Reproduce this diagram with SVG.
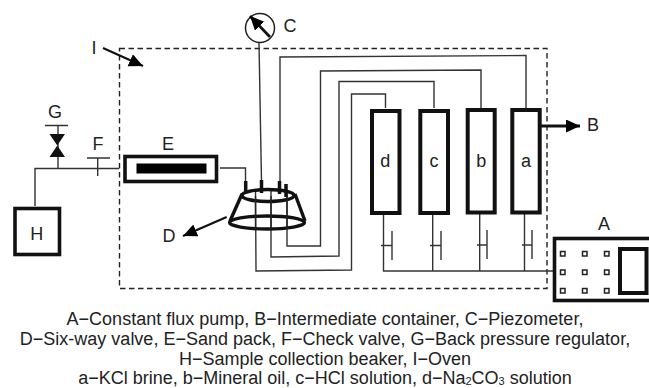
<svg xmlns="http://www.w3.org/2000/svg" width="649" height="388" viewBox="0 0 649 388">
<style>
text{font-family:"Liberation Sans",Arial,sans-serif;fill:#222}
.l{font-size:18px;text-anchor:middle}
.cap{font-size:18px;text-anchor:middle}
.w{fill:none;stroke:#333;stroke-width:1.4}
.b{fill:#fff;stroke:#111;stroke-width:3.6}
.c{fill:#fff;stroke:#111;stroke-width:4}
.t{fill:none;stroke:#111;stroke-width:3.4}
.p{fill:#fff;stroke:#222;stroke-width:1.5}
</style>
<defs><marker id="ah" markerUnits="userSpaceOnUse" markerWidth="16" markerHeight="14" refX="14" refY="6.500" orient="auto"><path d="M0 0L14 6.500L0 13Z" fill="#000"/></marker></defs>
<rect width="649" height="388" fill="#fff"/>
<g id="oven"><rect x="119.500" y="48.500" width="427.500" height="240" fill="none" stroke="#222" stroke-width="1.400" stroke-dasharray="5.500 3.500"/><path d="M103 48L143 66" stroke="#111" stroke-width="2.200" marker-end="url(#ah)" fill="none"/><text class="l" x="94" y="54">I</text></g>
<g id="connectors">
<path class="w" d="M259 43L261.500 182"/>
<path class="w" d="M280 182L280 57L526 55.500V108"/>
<path class="w" d="M287 190V246H320.500V71L481 70V108"/>
<path class="w" d="M271 190V257L339 256V81.500H434V108"/>
<path class="w" d="M255.500 190L256 271L351.500 270V94H385.500V108"/>
<path class="w" d="M383.500 215V271H554M432.700 215V271M479.700 214V271M524.500 214V271"/>
<path class="w" d="M381 245.500H392M392 231V260M430 245.500H441M441 231V260M477 245H487M487 230V259M522 245H532M532 230V259"/>
<path class="w" d="M220 168H245.500V182"/>
<path class="w" d="M119 168.500H35V206M58 168V125M45 125.500H68M97.700 176V158M87 158H110"/>
</g>
<g id="node-C"><circle cx="260" cy="28" r="14.500" fill="#fff" stroke="#222" stroke-width="1.500"/><path d="M270 37L250 16" stroke="#111" stroke-width="2.800" marker-end="url(#ah)"/><text class="l" x="290" y="32">C</text></g>
<g id="node-G"><path d="M49.500 134H65L49.500 157H65Z" fill="#111"/><text class="l" x="55" y="118">G</text></g>
<g id="node-F"><text class="l" x="98" y="150">F</text></g>
<g id="node-E"><rect class="b" x="125" y="156.500" width="91.500" height="25"/><rect x="136.500" y="163.500" width="70" height="10" fill="#000"/><text class="l" x="168" y="150">E</text></g>
<g id="node-H"><rect class="b" x="15" y="208.500" width="44.500" height="46"/><text class="l" x="36.700" y="240">H</text></g>
<g id="node-D"><path class="t" d="M242 194L230 221M295 194L305 221"/><ellipse class="t" cx="268" cy="195.500" rx="26" ry="6"/><ellipse class="t" cx="267" cy="222.500" rx="37.500" ry="6.500"/><path d="M245.700 181V192M261.500 180V193M279.500 181V194M286 184V197" stroke="#111" stroke-width="3.500"/><path d="M255.500 196V229M271 196V229M287 196V229" stroke="#222" stroke-width="1.400"/><path d="M226.700 217L183 236" stroke="#111" stroke-width="2.200" marker-end="url(#ah)"/><text class="l" x="169" y="242">D</text></g>
<g id="node-d"><rect class="c" x="372" y="111" width="27.500" height="102"/><text class="l" x="385.300" y="167">d</text></g>
<g id="node-c"><rect class="c" x="420.300" y="111" width="27.700" height="102"/><text class="l" x="434" y="167">c</text></g>
<g id="node-b"><rect class="c" x="467.700" y="110" width="27" height="102.500"/><text class="l" x="481.300" y="167">b</text></g>
<g id="node-a"><rect class="c" x="512.300" y="110" width="27.400" height="102.500"/><text class="l" x="526" y="167">a</text></g>
<g id="node-B"><path d="M541 126H580" stroke="#111" stroke-width="2.800" marker-end="url(#ah)"/><text class="l" x="593" y="131">B</text></g>
<g id="node-A"><rect class="b" x="554.500" y="238.500" width="100" height="62"/><rect class="c" x="620" y="249" width="26.500" height="44"/><text class="l" x="604" y="230">A</text>
<g><rect class="p" x="560.500" y="251.500" width="4.500" height="4.500"/><rect class="p" x="582.500" y="251.500" width="4.500" height="4.500"/><rect class="p" x="604.500" y="251.500" width="4.500" height="4.500"/><rect class="p" x="560.500" y="270" width="4.500" height="4.500"/><rect class="p" x="582.500" y="270" width="4.500" height="4.500"/><rect class="p" x="604.500" y="270" width="4.500" height="4.500"/><rect class="p" x="560.500" y="288.500" width="4.500" height="4.500"/><rect class="p" x="582.500" y="288.500" width="4.500" height="4.500"/><rect class="p" x="604.500" y="288.500" width="4.500" height="4.500"/></g></g>
<g id="caption">
<text class="cap" x="325" y="325">A−Constant flux pump, B−Intermediate container, C−Piezometer,</text>
<text class="cap" x="325" y="345">D−Six-way valve, E−Sand pack, F−Check valve, G−Back pressure regulator,</text>
<text class="cap" x="325" y="365">H−Sample collection beaker, I−Oven</text>
<text class="cap" x="325" y="383.500">a−KCl brine, b−Mineral oil, c−HCl solution, d−Na<tspan font-size="11" dy="1.500">2</tspan><tspan dy="-1.500">CO</tspan><tspan font-size="11" dy="1.500">3</tspan><tspan dy="-1.500"> solution</tspan></text>
</g>
</svg>
